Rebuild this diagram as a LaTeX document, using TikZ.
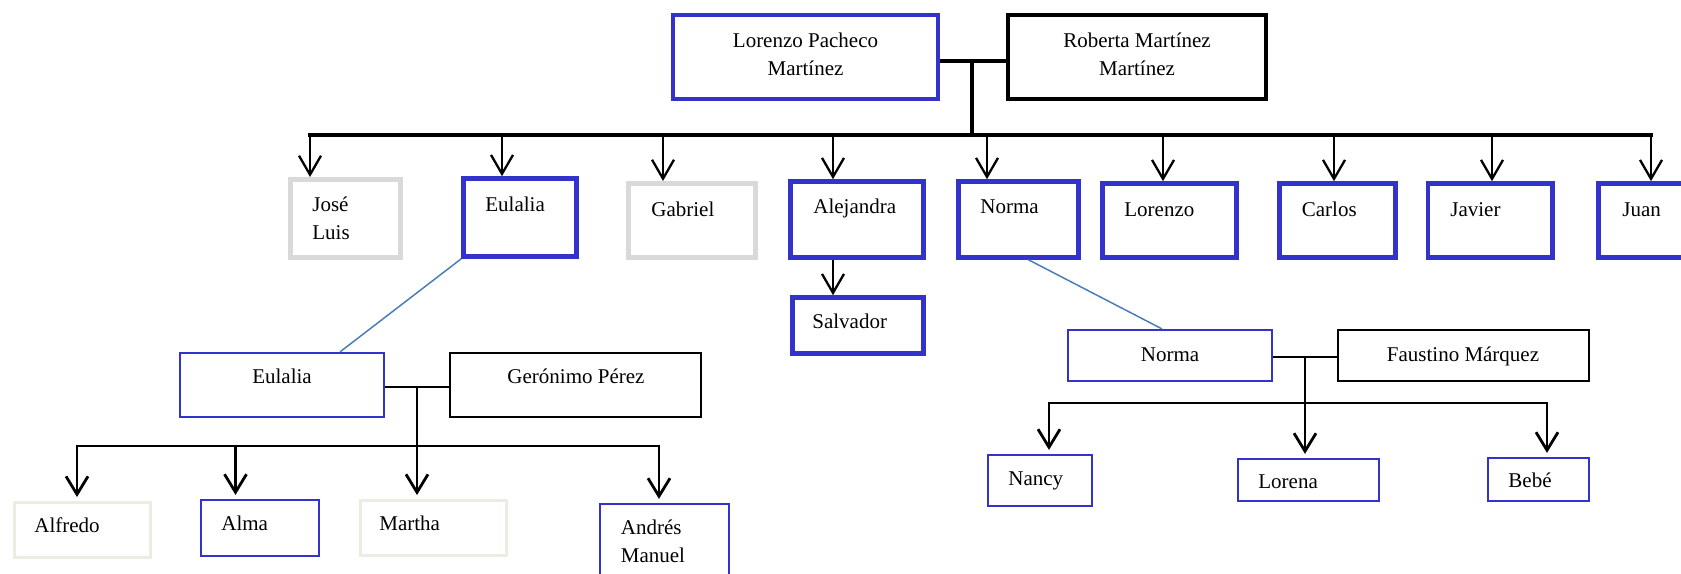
\documentclass[tikz,border=0pt]{standalone}
\usepackage{fontspec}
\setmainfont{Liberation Serif}
\usetikzlibrary{arrows.meta,calc}

\definecolor{kin}{HTML}{3333CC}
\definecolor{grayedge}{HTML}{D9D9D9}
\definecolor{paleedge}{HTML}{EEECE1}
\definecolor{linkblue}{HTML}{4A7EBB}

% box from its border's corner coordinates (x1,y1) to (x2,y2)
\newcommand\famrect[6]{%
  \node[#1, minimum width={(#5-#3)*0.5pt}, minimum height={(#6-#4)*0.5pt}]
    (#2) at ({(#3+#5)/2},{(#4+#6)/2}) {};}
\newcommand\twol[2]{\begin{tabular}[t]{@{}l@{}}#1\\#2\end{tabular}}
\newcommand\twoc[2]{\begin{tabular}[t]{@{}c@{}}#1\\#2\end{tabular}}

\tikzset{
  famcell/.style={rectangle, inner sep=0pt, fill=white},
  heavy/.style={famcell, draw=kin, line width=2.3pt},
  heavygray/.style={famcell, draw=grayedge, line width=2.5pt},
  heavyblack/.style={famcell, draw=black, line width=2.2pt},
  light/.style={famcell, draw=kin, line width=1.1pt},
  lightblack/.style={famcell, draw=black, line width=1.3pt},
  lightpale/.style={famcell, draw=paleedge, line width=1.5pt},
  lbl/.style={inner sep=0pt, font=\fontsize{10.5}{14}\selectfont},
  wire/.style={line width=2pt},
  bar/.style={line width=2.4pt, line cap=rect},
  drop/.style={line width=1.15pt, -{Straight Barb[length=9.5pt,width=11pt]}},
  thinwire/.style={line width=1.2pt},
  thinbar/.style={line width=1.4pt, line cap=rect},
  thindrop/.style={line width=1.4pt, shorten >=2pt,
                   -{Straight Barb[length=9pt,width=11pt]}},
  kinlink/.style={draw=linkblue, line width=0.75pt},
}

\begin{document}
\begin{tikzpicture}[x=0.5pt,y=-0.5pt]
\useasboundingbox (0,0) rectangle (1681,573);
\clip (0,0) rectangle (1681,573);

% ---- connector points ----
% grandparents
\coordinate (wed1) at (972,61);
\coordinate (hub1) at (972,135);
\coordinate (b-jose) at (310,135);
\coordinate (b-eul) at (502,135);
\coordinate (b-gab) at (663,135);
\coordinate (b-ale) at (833,135);
\coordinate (b-nor) at (987,135);
\coordinate (b-lor) at (1163,135);
\coordinate (b-car) at (1334,135);
\coordinate (b-jav) at (1492,135);
\coordinate (b-jua) at (1651,135);
\coordinate (a-sal) at (833,300);

% Eulalia's family
\coordinate (wed2) at (417,387);
\coordinate (hub2) at (417,446);
\coordinate (c-alf) at (77,446);
\coordinate (c-alm) at (235.5,446);
\coordinate (c-mar) at (417,446);
\coordinate (c-and) at (659,446);

% Norma's family
\coordinate (wed3) at (1305,357);
\coordinate (hub3) at (1305,403);
\coordinate (c-nan) at (1049,403);
\coordinate (c-lna) at (1305,403);
\coordinate (c-beb) at (1547,403);

% ---- boxes ----
\famrect{heavy}{lp}{673}{15}{938}{99}
\famrect{heavyblack}{rm}{1008}{15}{1266}{99}
\famrect{heavygray}{jose}{290.5}{179.5}{400.5}{257.5}
\famrect{heavy}{eul}{463.5}{178.5}{576.5}{256.5}
\famrect{heavygray}{gab}{628.5}{183.5}{755.5}{257.5}
\famrect{heavy}{ale}{790.5}{181.5}{923.5}{257.5}
\famrect{heavy}{nor}{958.5}{181.5}{1078.5}{257.5}
\famrect{heavy}{lor}{1102.5}{183.5}{1236.5}{257.5}
\famrect{heavy}{car}{1279.5}{183.5}{1395.5}{257.5}
\famrect{heavy}{jav}{1428}{183.5}{1552.5}{257.5}
\famrect{heavy}{jua}{1598.5}{183.5}{1730}{257.5}
\famrect{heavy}{sal}{792.5}{297.5}{923.5}{353.5}
\famrect{light}{eul2}{180}{353}{384}{417}
\famrect{lightblack}{ger}{450}{353}{701}{417}
\famrect{lightpale}{alf}{14.5}{502.5}{150.5}{557.5}
\famrect{light}{alm}{201}{500}{319}{556}
\famrect{lightpale}{mar}{360.5}{500.5}{506.5}{555.5}
\famrect{light}{and}{600}{504}{729}{620}
\famrect{light}{nor2}{1068}{330}{1272}{381}
\famrect{lightblack}{fau}{1338}{330}{1589}{381}
\famrect{light}{nan}{988}{455}{1092}{506}
\famrect{light}{lna}{1238}{459}{1379}{501}
\famrect{light}{beb}{1488}{458}{1589}{501}

% ---- lines between boxes ----
\draw[wire] (wed1 -| lp.east) -- (wed1 -| rm.west);
\draw[wire] (wed1) -- (hub1);
\draw[bar] (b-jose) -- (b-jua);
\foreach \c in {jose, eul, gab, ale, nor, lor, car, jav, jua}
  \draw[drop] (b-\c) -- (b-\c |- \c.north);
\draw[drop] (a-sal |- ale.south) -- (a-sal |- sal.north);

\draw[kinlink] (eul.south west) -- ($(eul2.north)+(58,0)$);
\draw[kinlink] ($(nor.south)+(10,0)$) -- ($(nor2.north)+(-8,0)$);

\draw[thinwire] (wed2 -| eul2.east) -- (wed2 -| ger.west);
\draw[thinwire] (wed2) -- (hub2);
\draw[thinbar] (c-alf) -- (c-and);
\foreach \c in {alf, alm, mar, and}
  \draw[thindrop] (c-\c) -- (c-\c |- \c.north);

\draw[thinwire] (wed3 -| nor2.east) -- (wed3 -| fau.west);
\draw[thinwire] (wed3) -- (hub3);
\draw[thinbar] (c-nan) -- (c-beb);
\foreach \c in {nan, lna, beb}
  \draw[thindrop] (c-\c) -- (c-\c |- \c.north);

% ---- names ----
\node[lbl, anchor=base] (t-lp) at (805.5,47) {\twoc{Lorenzo Pacheco}{Martínez}};
\node[lbl, anchor=base] (t-rm) at (1137,47) {\twoc{Roberta Martínez}{Martínez}};
\node[lbl, anchor=base west] (t-jose) at (312,211) {\twol{José}{Luis}};
\node[lbl, anchor=base west] (t-eul) at (485,211) {Eulalia};
\node[lbl, anchor=base west] (t-gab) at (651,216) {Gabriel};
\node[lbl, anchor=base west] (t-ale) at (813,213) {Alejandra};
\node[lbl, anchor=base west] (t-nor) at (980,213) {Norma};
\node[lbl, anchor=base west] (t-lor) at (1124,216) {Lorenzo};
\node[lbl, anchor=base west] (t-car) at (1301.5,216) {Carlos};
\node[lbl, anchor=base west] (t-jav) at (1450,216) {Javier};
\node[lbl, anchor=base west] (t-jua) at (1622,216) {Juan};
\node[lbl, anchor=base west] (t-sal) at (812,328) {Salvador};
\node[lbl, anchor=base] (t-eul2) at (282,383) {Eulalia};
\node[lbl, anchor=base] (t-ger) at (576,383) {Gerónimo Pérez};
\node[lbl, anchor=base west] (t-alf) at (34,532) {Alfredo};
\node[lbl, anchor=base west] (t-alm) at (221,530) {Alma};
\node[lbl, anchor=base west] (t-mar) at (379,530) {Martha};
\node[lbl, anchor=base west] (t-and) at (620.5,534) {\twol{Andrés}{Manuel}};
\node[lbl, anchor=base] (t-nor2) at (1170,361) {Norma};
\node[lbl, anchor=base] (t-fau) at (1463,361) {Faustino Márquez};
\node[lbl, anchor=base west] (t-nan) at (1008,485) {Nancy};
\node[lbl, anchor=base west] (t-lna) at (1258,488) {Lorena};
\node[lbl, anchor=base west] (t-beb) at (1508,487) {Bebé};
\end{tikzpicture}
\end{document}
